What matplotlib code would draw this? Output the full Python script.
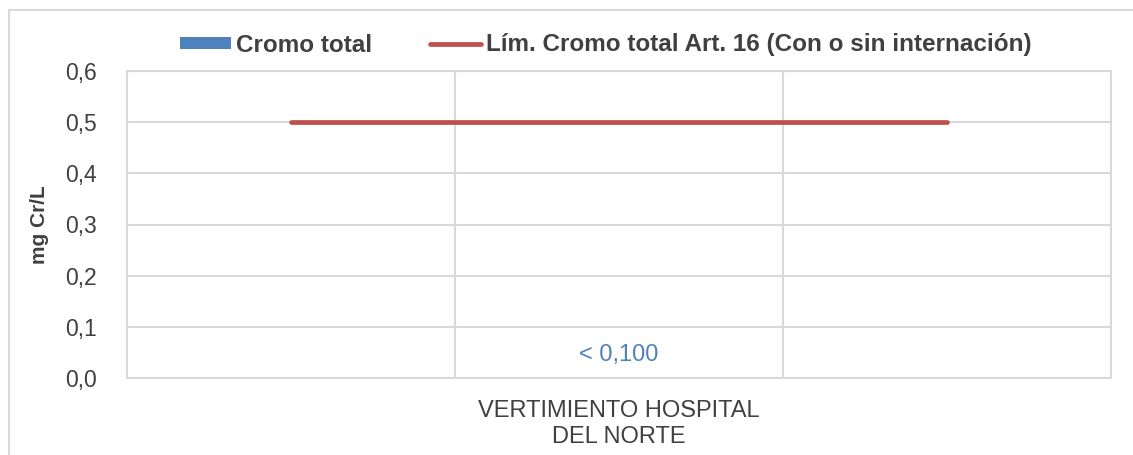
import matplotlib
matplotlib.use("Agg")
import matplotlib.pyplot as plt
from matplotlib.lines import Line2D
from matplotlib.patches import Patch

plt.rcParams['font.family'] = ['Liberation Sans', 'DejaVu Sans']

categories = ["VERTIMIENTO HOSPITAL\nDEL NORTE"]
cromo_total = [0.0]
cromo_labels = ["< 0,100"]
limit_x = [0.5, 2.5]
limit_values = [0.5, 0.5]
yticks = [0.0, 0.1, 0.2, 0.3, 0.4, 0.5, 0.6]
ytick_labels = ["0,0", "0,1", "0,2", "0,3", "0,4", "0,5", "0,6"]

blue = "#4F81BD"
red = "#C0504D"
txt = "#404040"
grid = "#D9D9D9"

fig = plt.figure(figsize=(11.33, 4.55), dpi=100)
ax = fig.add_axes([127/1133, 1-378/455, (1111-127)/1133, (378-71)/455])

cat_pos = [1.5]
ax.bar(cat_pos, cromo_total, width=1.0, color=blue, zorder=3)
for x, v, lab in zip(cat_pos, cromo_total, cromo_labels):
    ax.text(x, v + 0.045, lab, ha='center', va='center', color=blue, fontsize=17)
ax.plot(limit_x, limit_values, color=red, lw=3.4, solid_capstyle='round', zorder=4)

ax.set_xlim(0, 3)
ax.set_ylim(0, 0.6)
ax.set_yticks(yticks)
ax.set_yticklabels(ytick_labels, fontsize=16.5, color=txt)
ax.set_xticks(cat_pos)
ax.set_xticklabels(categories, fontsize=17, color=txt, linespacing=1.25)
ax.set_xticks([1, 2], minor=True)
ax.tick_params(axis='both', which='both', length=0)
ax.tick_params(axis='y', pad=22)
ax.tick_params(axis='x', pad=16)
ax.grid(True, axis='y', color=grid, lw=1.5, zorder=0)
ax.grid(True, axis='x', which='minor', color=grid, lw=1.5, zorder=0)
for s in ax.spines.values():
    s.set_color(grid)
    s.set_linewidth(1.5)
ax.set_ylabel("mg Cr/L", fontsize=15, fontweight='bold', color=txt, labelpad=11)

handles = [Patch(facecolor=blue, edgecolor='none'),
           Line2D([0], [0], color=red, lw=3.4, solid_capstyle='round')]
labels = ["Cromo total", "Lím. Cromo total Art. 16 (Con o sin internación)"]
leg = fig.legend(handles, labels, loc='center', bbox_to_anchor=(606/1133, 1-45/455),
                 ncol=2, frameon=False, handlelength=2.1, handleheight=0.42,
                 handletextpad=0.2, columnspacing=2.4,
                 prop={'size': 17.5, 'weight': 'bold'})
for t in leg.get_texts():
    t.set_color(txt)

# chart area border
fig.add_artist(Line2D([9/1133, 9/1133], [-0.1, 1-10/455], transform=fig.transFigure,
                      color=grid, lw=1.5))
fig.add_artist(Line2D([9/1133, 1.1], [1-10/455, 1-10/455], transform=fig.transFigure,
                      color=grid, lw=1.5))

fig.savefig("out.png", dpi=100)
